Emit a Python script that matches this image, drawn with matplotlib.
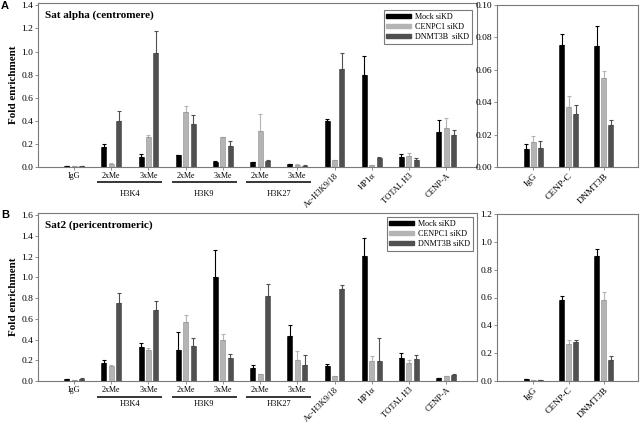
import matplotlib
matplotlib.use("Agg")
import matplotlib.pyplot as plt
import matplotlib.transforms as mtransforms
import numpy as np

plt.rcParams['font.family'] = ['Liberation Serif', 'DejaVu Serif']

# ---- data ----
main_cats = ["IgG", "2xMe", "3xMe", "2xMe", "3xMe", "2xMe", "3xMe",
             "Ac-H3K9/18", "HP1α", "TOTAL H3", "CENP-A"]
groups = [("H3K4", 1), ("H3K9", 3), ("H3K27", 5)]
right_cats = ["IgG", "CENP-C", "DNMT3B"]
series_names_a = ["Mock siKD", "CENPC1 siKD", "DNMT3B  siKD"]
series_names_b = ["Mock siKD", "CENPC1 siKD", "DNMT3B siKD"]

# Sat alpha (centromere)
a_mock = [0.011, 0.175, 0.09, 0.10, 0.042, 0.04, 0.022, 0.40, 0.795, 0.09, 0.30]
a_mock_err = [0.0, 0.025, 0.02, 0.005, 0.012, 0.005, 0.003, 0.015, 0.17, 0.02, 0.105]
a_cenpc1 = [0.006, 0.03, 0.26, 0.476, 0.262, 0.31, 0.014, 0.06, 0.017, 0.099, 0.335]
a_cenpc1_err = [0.0, 0.005, 0.02, 0.05, 0.002, 0.15, 0.008, 0.003, 0.003, 0.02, 0.085]
a_dnmt3b = [0.006, 0.40, 0.99, 0.372, 0.186, 0.054, 0.011, 0.85, 0.08, 0.062, 0.276]
a_dnmt3b_err = [0.0, 0.085, 0.185, 0.08, 0.035, 0.005, 0.002, 0.135, 0.003, 0.018, 0.048]

a_r_mock = [0.0113, 0.0755, 0.075]
a_r_mock_err = [0.0027, 0.0065, 0.0118]
a_r_cenpc1 = [0.0154, 0.037, 0.055]
a_r_cenpc1_err = [0.0036, 0.0066, 0.0045]
a_r_dnmt3b = [0.0119, 0.0327, 0.026]
a_r_dnmt3b_err = [0.0044, 0.0053, 0.003]

# Sat2 (pericentromeric)
b_mock = [0.015, 0.174, 0.325, 0.303, 1.00, 0.122, 0.438, 0.142, 1.208, 0.219, 0.025]
b_mock_err = [0.003, 0.032, 0.042, 0.167, 0.26, 0.036, 0.10, 0.025, 0.172, 0.051, 0.004]
b_cenpc1 = [0.010, 0.142, 0.303, 0.57, 0.40, 0.068, 0.206, 0.047, 0.196, 0.171, 0.05]
b_cenpc1_err = [0.003, 0.016, 0.019, 0.07, 0.057, 0.003, 0.084, 0.002, 0.042, 0.032, 0.003]
b_dnmt3b = [0.02, 0.754, 0.68, 0.341, 0.222, 0.824, 0.158, 0.889, 0.196, 0.209, 0.055]
b_dnmt3b_err = [0.005, 0.096, 0.096, 0.078, 0.036, 0.116, 0.09, 0.035, 0.223, 0.045, 0.009]

b_r_mock = [0.012, 0.58, 0.895]
b_r_mock_err = [0.002, 0.03, 0.051]
b_r_cenpc1 = [0.005, 0.269, 0.581]
b_r_cenpc1_err = [0.002, 0.029, 0.057]
b_r_dnmt3b = [0.007, 0.278, 0.154]
b_r_dnmt3b_err = [0.002, 0.02, 0.024]

colors = ["#000000", "#b4b4b4", "#505050"]
edges = ["#000000", "#8c8c8c", "#404040"]
frame_col = "#7a7a7a"

W, H = 640, 422
fig = plt.figure(figsize=(W / 100, H / 100), dpi=100)


def px_axes(left, top, right, bottom):
    return fig.add_axes([left / W, 1 - bottom / H, (right - left) / W, (bottom - top) / H])


def draw_bars(ax, vals, errs):
    x = np.arange(len(vals[0]))
    for k, (v, e) in enumerate(zip(vals, errs)):
        pos = x + (k - 1) * 0.2
        ax.bar(pos, v, width=0.135, color=colors[k], edgecolor=edges[k],
               linewidth=0.4, zorder=2)
        ax.errorbar(pos, v, yerr=[np.zeros(len(v)), e], fmt="none",
                    ecolor=colors[k], elinewidth=0.8, capsize=1.6,
                    capthick=0.8, zorder=1)
    return x


def style(ax):
    for s in ax.spines.values():
        s.set_color(frame_col)
        s.set_linewidth(0.8)
    ax.tick_params(direction="out", length=2, width=0.6, color=frame_col, pad=1.5)
    ax.tick_params(axis="y", labelsize=6.8)
    ax.tick_params(axis="x", labelsize=5.8)


def main_panel(ax, vals, errs, ymax, yticks, line_off, text_off, names, title, leg_anchor):
    x = draw_bars(ax, vals, errs)
    ax.set_xlim(-0.97, 10.83)
    ax.set_ylim(0, ymax)
    ax.set_yticks(yticks)
    ax.set_yticklabels([f"{t:.1f}" for t in yticks])
    ax.set_xticks(x)
    ax.set_xticklabels(main_cats)
    style(ax)
    for i, lab in enumerate(ax.get_xticklabels()):
        if i >= 7:
            lab.set_rotation(45)
            lab.set_ha("right")
            lab.set_rotation_mode("anchor")
            lab.set_va("top")
            lab.set_fontsize(6.2)
    base = mtransforms.blended_transform_factory(ax.transData, ax.transAxes)
    tl = base + mtransforms.ScaledTranslation(0, -line_off / 100, fig.dpi_scale_trans)
    tt = base + mtransforms.ScaledTranslation(0, -text_off / 100, fig.dpi_scale_trans)
    for name, i in groups:
        ax.plot([i - 0.38, i + 1.37], [0, 0], color="black", lw=1.1,
                transform=tl, clip_on=False, solid_capstyle="butt")
        ax.text(i + 0.5, 0, name, transform=tt, ha="center", va="center",
                fontsize=6.0)
    ax.set_ylabel("Fold enrichment", fontsize=8, fontweight="bold", labelpad=2)
    ax.text(0.015, 0.955, title, transform=ax.transAxes, ha="left", va="top",
            fontsize=8, fontweight="bold")
    handles = [plt.Rectangle((0, 0), 1, 1, color=c) for c in colors]
    leg = ax.legend(handles, names, loc="upper right", bbox_to_anchor=leg_anchor,
                    fontsize=5.9, frameon=True, fancybox=False, framealpha=1,
                    handlelength=3.0, handleheight=0.45, labelspacing=0.25,
                    borderpad=0.35, handletextpad=0.5, borderaxespad=0)
    leg.get_frame().set_edgecolor(frame_col)
    leg.get_frame().set_linewidth(0.8)


def right_panel(ax, vals, errs, ymax, yticks, fmt):
    x = draw_bars(ax, vals, errs)
    ax.set_xlim(-1.03, 2.97)
    ax.set_ylim(0, ymax)
    ax.set_yticks(yticks)
    ax.set_yticklabels([fmt.format(t) for t in yticks])
    ax.set_xticks(x)
    ax.set_xticklabels(right_cats, rotation=45, ha="right", rotation_mode="anchor")
    style(ax)
    ax.tick_params(axis="x", labelsize=6.8)


# Panel A
ax_a = px_axes(38, 3, 477, 167)
main_panel(ax_a, [a_mock, a_cenpc1, a_dnmt3b], [a_mock_err, a_cenpc1_err, a_dnmt3b_err],
           1.42, np.arange(0, 1.41, 0.2), 15, 27, series_names_a,
           "Sat alpha (centromere)", (0.989, 0.957))
ax_ar = px_axes(497, 5, 638, 167)
right_panel(ax_ar, [a_r_mock, a_r_cenpc1, a_r_dnmt3b],
            [a_r_mock_err, a_r_cenpc1_err, a_r_dnmt3b_err],
            0.1, np.arange(0, 0.101, 0.02), "{:.2f}")

# Panel B
ax_b = px_axes(38, 213, 477, 381)
main_panel(ax_b, [b_mock, b_cenpc1, b_dnmt3b], [b_mock_err, b_cenpc1_err, b_dnmt3b_err],
           1.62, np.arange(0, 1.61, 0.2), 16, 23, series_names_b,
           "Sat2 (pericentromeric)", (0.991, 0.976))
ax_br = px_axes(497, 214, 638, 381)
right_panel(ax_br, [b_r_mock, b_r_cenpc1, b_r_dnmt3b],
            [b_r_mock_err, b_r_cenpc1_err, b_r_dnmt3b_err],
            1.2, np.arange(0, 1.21, 0.2), "{:.1f}")

fig.text(1 / W, 1 - 6 / H, "A", fontsize=8, fontweight="bold",
         family="Liberation Sans", ha="left", va="center")
fig.text(1 / W, 1 - 215 / H, "B", fontsize=8, fontweight="bold",
         family="Liberation Sans", ha="left", va="center")

fig.savefig("out.png", dpi=100)
